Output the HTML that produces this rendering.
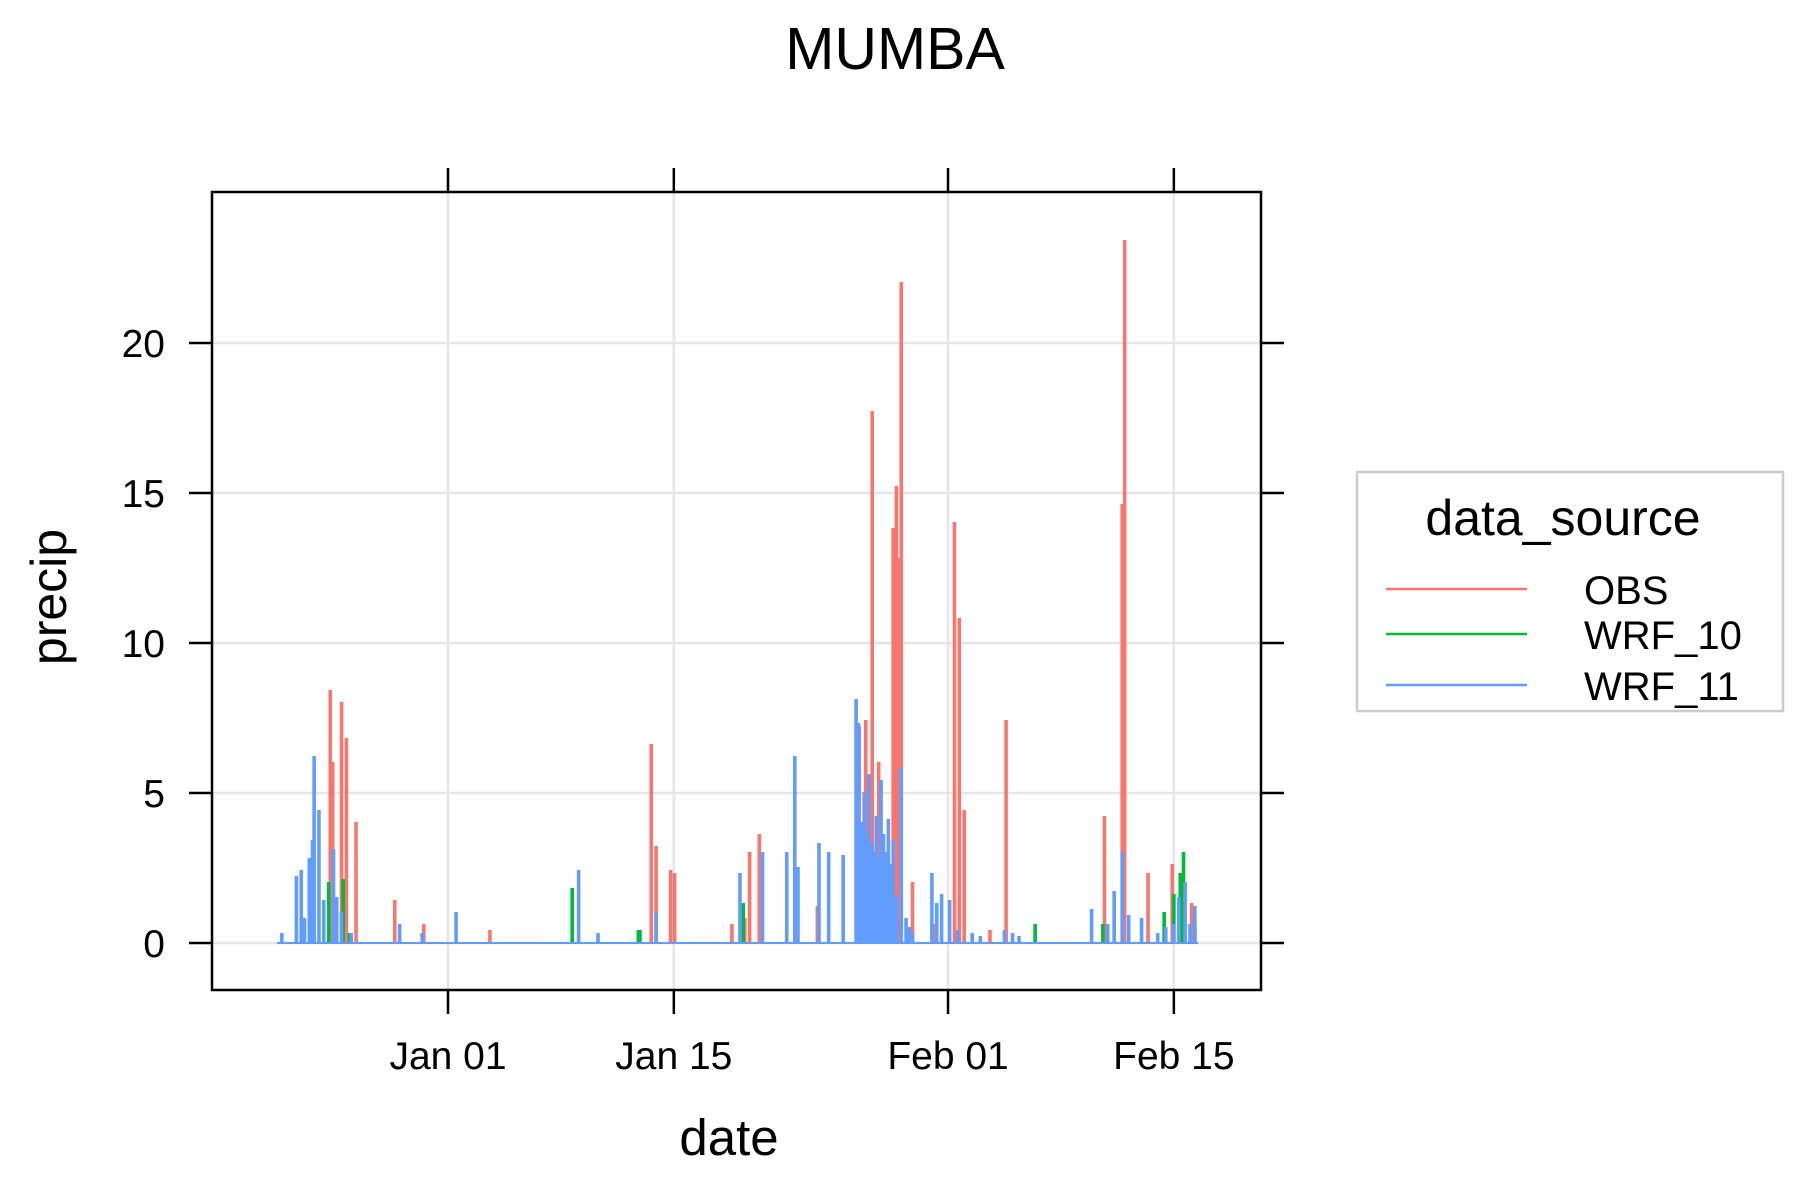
<!DOCTYPE html>
<html><head><meta charset="utf-8">
<style>
html,body{margin:0;padding:0;background:#fff;}
svg{display:block;font-family:"Liberation Sans",Arial,sans-serif;}
</style></head>
<body>
<svg id="chart" width="1800" height="1200" viewBox="0 0 1800 1200" xmlns="http://www.w3.org/2000/svg">
<text x="895" y="69" font-size="59" text-anchor="middle">MUMBA</text>
<g id="grid"></g>
<g id="series"></g>
<rect x="212" y="192" width="1049" height="798" fill="none" stroke="#000" stroke-width="2.5"/>
<g id="axes"></g>
<text x="729" y="1155" font-size="51" text-anchor="middle">date</text>
<text transform="translate(66,597) rotate(-90)" font-size="50" text-anchor="middle">precip</text>
<g>
<rect x="1357" y="472" width="426" height="239" fill="#fff" stroke="#ccc" stroke-width="2.5"/>
<text x="1563" y="535" font-size="50" text-anchor="middle">data_source</text>
<line x1="1386" y1="589" x2="1527" y2="589" stroke="#F8766D" stroke-width="2.5"/>
<text x="1584" y="604" font-size="40">OBS</text>
<line x1="1386" y1="634" x2="1527" y2="634" stroke="#00BA38" stroke-width="2.5"/>
<text x="1584" y="649" font-size="40">WRF_10</text>
<line x1="1386" y1="685" x2="1527" y2="685" stroke="#619CFF" stroke-width="2.5"/>
<text x="1584" y="700" font-size="40">WRF_11</text>
</g>
</svg>
<script>
// days relative to Jan 01 (0)
const xTickDays = [0, 14, 31, 45];
const xTickLabels = ["Jan 01", "Jan 15", "Feb 01", "Feb 15"];
const yTicks = [0, 5, 10, 15, 20];
const obsDays = [-7.3,-7.15,-6.6,-6.3,-5.7,-3.3,-1.5,2.6,12.6,12.9,13.8,14.05,17.6,18.4,18.7,19.3,22.9,25.5,25.9,26.3,26.7,27.6,27.8,27.95,28.1,28.8,30.1,31.4,31.7,32.0,33.6,34.6,40.7,41.8,41.95,43.4,44.9,46.1,46.3];
const obsVals = [8.4,6.0,8.0,6.8,4.0,1.4,0.6,0.4,6.6,3.2,2.4,2.3,0.6,0.8,3.0,3.6,1.2,7.2,7.4,17.7,6.0,13.8,15.2,12.8,22.0,2.0,0.6,14.0,10.8,4.4,0.4,7.4,4.2,14.6,23.4,2.3,2.6,1.3,0.8];
const w10Days = [-7.4,-6.5,-6.1,7.7,11.8,11.9,18.3,36.4,40.6,44.4,45.0,45.4,45.6,46.3];
const w10Vals = [2.0,2.1,0.3,1.8,0.4,0.4,1.3,0.6,0.6,1.0,1.6,2.3,3.0,0.5];
const w11Days = [-10.3,-9.4,-9.1,-8.9,-8.6,-8.4,-8.3,-8.0,-7.7,-7.1,-6.9,-6.6,-6.0,-3.0,-1.6,0.5,8.1,9.3,12.9,18.1,19.5,21.0,21.5,21.7,23.0,23.6,24.5,25.3,25.45,25.6,25.8,25.9,26.0,26.1,26.25,26.4,26.55,26.7,26.85,27.0,27.15,27.3,27.45,27.6,27.8,28.1,28.4,28.6,28.8,30.0,30.3,30.6,31.1,31.6,32.5,33.0,34.5,35.0,35.4,39.9,40.9,41.3,41.8,42.2,43.0,44.0,44.5,45.0,45.3,45.7,46.0,46.3];
const w11Vals = [0.3,2.2,2.4,0.8,2.8,3.4,6.2,4.4,1.4,3.1,1.5,1.0,0.3,0.6,0.3,1.0,2.4,0.3,1.0,2.3,3.0,3.0,6.2,2.5,3.3,3.0,2.9,8.1,7.3,4.0,5.0,3.4,3.6,5.6,3.3,3.0,4.2,2.8,5.4,3.6,3.0,4.1,2.6,3.4,1.5,5.8,0.8,0.5,0.3,2.3,1.3,1.6,1.4,0.4,0.3,0.2,0.4,0.3,0.2,1.1,0.6,1.7,3.0,0.9,0.8,0.3,0.5,0.6,1.5,2.0,0.6,1.2];
const dayStart = -10.6, dayEnd = 46.5;

const x0 = 448, pxPerDay = 16.13, y0 = 943, pxPerUnit = 30;
const xs = d => x0 + d * pxPerDay;
const ys = v => y0 - v * pxPerUnit;
const NS = "http://www.w3.org/2000/svg";
const grid = document.getElementById('grid');
const axes = document.getElementById('axes');
const series = document.getElementById('series');
function mk(tag, attrs, parent) {
  const e = document.createElementNS(NS, tag);
  for (const k in attrs) e.setAttribute(k, attrs[k]);
  parent.appendChild(e);
  return e;
}
xTickDays.forEach((d, i) => {
  const x = xs(d);
  const g = mk('line', {x1: x, y1: 192, x2: x, y2: 990, stroke: '#e6e6e6', 'stroke-width': 2.5}, grid);
  
  
  const tb = mk('line', {x1: x, y1: 990, x2: x, y2: 1014, stroke: '#000', 'stroke-width': 2.5}, axes);
  
  
  const tt = mk('line', {x1: x, y1: 168, x2: x, y2: 192, stroke: '#000', 'stroke-width': 2.5}, axes);
  
  
  const t = mk('text', {x: x, y: 1069, 'font-size': 39, 'text-anchor': 'middle'}, axes);
  t.textContent = xTickLabels[i];
  
  
});
yTicks.forEach(v => {
  const y = ys(v);
  const g = mk('line', {x1: 212, y1: y, x2: 1261, y2: y, stroke: '#e6e6e6', 'stroke-width': 2.5}, grid);
  
  
  const tl = mk('line', {x1: 189, y1: y, x2: 212, y2: y, stroke: '#000', 'stroke-width': 2.5}, axes);
  
  
  const tr = mk('line', {x1: 1261, y1: y, x2: 1284, y2: y, stroke: '#000', 'stroke-width': 2.5}, axes);
  
  
  const t = mk('text', {x: 165, y: y + 14, 'font-size': 39, 'text-anchor': 'end'}, axes);
  t.textContent = String(v);
  
  
});
function drawSeries(days, vals, color, name) {
  let d = 'M' + xs(dayStart) + ' ' + ys(0);
  const idx = days.map((_, i) => i).sort((a, b) => days[a] - days[b]);
  idx.forEach(i => {
    const x = xs(days[i]);
    d += ' L' + (x - 0.8) + ' ' + ys(0) + ' L' + (x - 0.8) + ' ' + ys(vals[i]) + ' L' + (x + 0.8) + ' ' + ys(vals[i]) + ' L' + (x + 0.8) + ' ' + ys(0);
  });
  d += ' L' + xs(dayEnd) + ' ' + ys(0);
  const p = mk('path', {d: d, fill: color, stroke: color, 'stroke-width': 2, 'stroke-linejoin': 'miter'}, series);
  
  
}
drawSeries(obsDays, obsVals, '#F8766D', 'series-obs');
drawSeries(w10Days, w10Vals, '#00BA38', 'series-wrf-10');
drawSeries(w11Days, w11Vals, '#619CFF', 'series-wrf-11');
</script>
</body></html>
